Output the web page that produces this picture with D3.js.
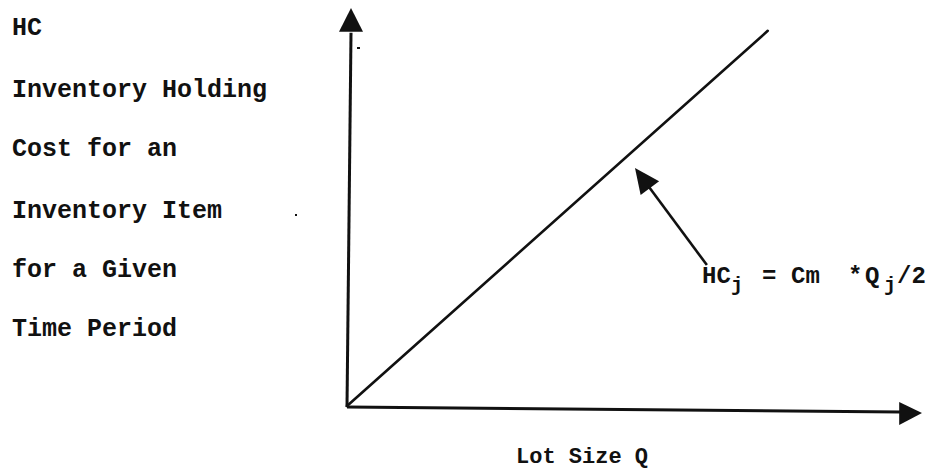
<!DOCTYPE html>
<html>
<head>
<meta charset="utf-8">
<script src="https://cdn.jsdelivr.net/npm/d3@7/dist/d3.min.js"></script>
<style>
  html, body { margin: 0; padding: 0; background: #fff; }
  svg { display: block; }
  text { font-family: "Liberation Mono", "DejaVu Sans Mono", monospace; font-weight: bold; fill: #111; }
</style>
</head>
<body>
<svg id="chart" width="934" height="475"></svg>
<script>
// ---- data ----
const yLabelLines = ["HC", "Inventory Holding", "Cost for an", "Inventory Item", "for a Given", "Time Period"];
const xLabel = "Lot Size Q";
const lotSize = [0, 7.33];          // Q (arbitrary units)
const holdingCost = [0, 9.45];      // HC = Cm * Q / 2
const formulaParts = [
  { t: "HC", sub: false }, { t: "j", sub: true }, { t: "=", sub: false },
  { t: "Cm", sub: false }, { t: "*", sub: false }, { t: "Q", sub: false },
  { t: "j", sub: true }, { t: "/2", sub: false }
];
const formulaAnchor = { q: 6.27, hc: 3.55 };   // where leader line meets the label

// ---- layout ----
const svg = d3.select("#chart");
const ink = "#111";
const x = d3.scaleLinear().domain([0, 10]).range([347, 921]);
const y = d3.scaleLinear().domain([0, 10]).range([406, 9]);

// y-axis label lines
const baselines = [35, 97, 156, 218, 277, 336];
svg.append("g").selectAll("text").data(yLabelLines).join("text")
  .attr("x", 12).attr("y", (d, i) => baselines[i])
  .attr("font-size", 25)
  .text(d => d);

// axes
svg.append("line").attr("x1", x(0)).attr("y1", y(0) + 1).attr("x2", x(9.65)).attr("y2", y(0) + 6)
  .attr("stroke", ink).attr("stroke-width", 3);
svg.append("path")
  .attr("d", `M${x(10) + 1},${y(0) + 7} L${x(9.62)},${y(0) - 4} L${x(9.62)},${y(0) + 19} Z`)
  .attr("fill", ink);

svg.append("line").attr("x1", x(0)).attr("y1", y(0) + 1).attr("x2", x(0) + 4).attr("y2", y(9.4))
  .attr("stroke", ink).attr("stroke-width", 3);
svg.append("path")
  .attr("d", `M${x(0) + 4},${y(10) - 1} L${x(0) - 8},${y(9.43)} L${x(0) + 16},${y(9.43)} Z`)
  .attr("fill", ink);

// holding cost line
const line = d3.line().x(d => x(d[0])).y(d => y(d[1]));
svg.append("path")
  .datum(d3.zip(lotSize, holdingCost))
  .attr("d", line)
  .attr("fill", "none").attr("stroke", ink).attr("stroke-width", 2.6).attr("stroke-linecap", "round");

// annotation arrow
const ax0 = x(formulaAnchor.q), ay0 = y(formulaAnchor.hc);
const tx = 635, ty = 168;
const dx = tx - ax0, dy = ty - ay0, len = Math.hypot(dx, dy);
const ux = dx / len, uy = dy / len;
const headL = 25, headW = 11.5;
const bx = tx - ux * headL, by = ty - uy * headL;
svg.append("line").attr("x1", ax0).attr("y1", ay0).attr("x2", bx + ux * 3).attr("y2", by + uy * 3)
  .attr("stroke", ink).attr("stroke-width", 2.6);
svg.append("path")
  .attr("d", `M${tx},${ty} L${bx - uy * headW},${by + ux * headW} L${bx + uy * headW},${by - ux * headW} Z`)
  .attr("fill", ink);

// formula label (one text element, pieces placed with tspans)
const fx = [702, 731, 762, 791, 848, 865, 884, 897];
const ft = svg.append("text").attr("x", 702).attr("y", 283).attr("font-size", 24);
formulaParts.forEach((p, i) => {
  ft.append("tspan").attr("x", fx[i]).attr("y", 283 + (p.sub ? 8 : 0))
    .attr("font-size", p.sub ? 20 : 24).text(p.t);
});

// x-axis label
svg.append("text").attr("x", 516).attr("y", 463).attr("font-size", 22).text(xLabel);

// small scan specks
svg.append("rect").attr("x", 295).attr("y", 214).attr("width", 2).attr("height", 2).attr("fill", ink);
svg.append("rect").attr("x", 357).attr("y", 47).attr("width", 3).attr("height", 2).attr("fill", ink);
</script>
</body>
</html>
